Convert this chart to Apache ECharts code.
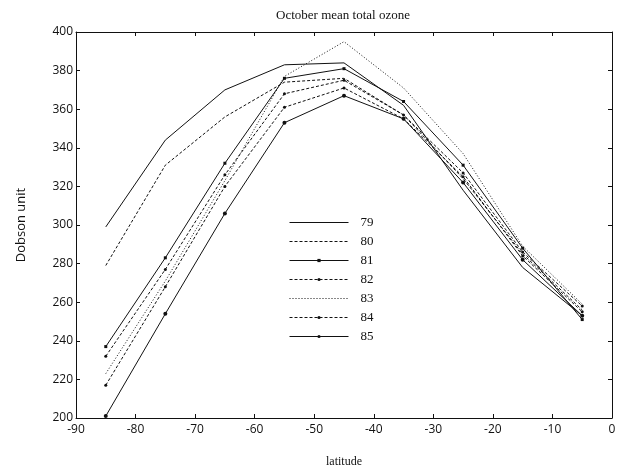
<!DOCTYPE html>
<html>
<head>
<meta charset="utf-8">
<script src="https://cdn.jsdelivr.net/npm/echarts@6/dist/echarts.min.js"></script>
<style>
  html, body { margin: 0; padding: 0; background: #fff; }
  #chart { width: 629px; height: 474px; }
</style>
</head>
<body>
<div id="chart"></div>
<script>
// latitude of each sample
var latitudes = [-85, -75, -65, -55, -45, -35, -25, -15, -5];

// October mean total ozone (Dobson units), one array per year
var y79 = [299, 344, 370, 383, 384, 362, 318, 278, 253];
var y80 = [279, 331, 356, 374, 376, 357, 324, 285, 256];
var y81 = [237, 283, 332, 376, 381, 364, 331, 288, 251];
var y82 = [232, 277, 326, 368, 375, 357, 327, 286, 258];
var y83 = [223, 271, 323, 377, 395, 371, 337, 289, 259];
var y84 = [217, 268, 320, 361, 371, 355, 325, 284, 255];
var y85 = [201, 254, 306, 353, 367, 355, 322, 282, 253];

var yearNames = ['79', '80', '81', '82', '83', '84', '85'];

function pairs(vals) {
  return latitudes.map(function (lat, i) { return [lat, vals[i]]; });
}

// line look per year: dash pattern + marker
function makeSeries(name, vals, dash, symbol, size) {
  return {
    name: name,
    type: 'line',
    data: pairs(vals),
    symbol: symbol || 'none',
    symbolSize: size || 0,
    showSymbol: !!symbol,
    itemStyle: { color: '#111', borderWidth: 0 },
    lineStyle: { color: '#111', width: 1, type: dash },
    emphasis: { disabled: true },
    animation: false
  };
}

// legend entries: hide the marker for plain lines
var withMarker = { '81': true, '82': true, '84': true, '85': true };
var legendData = yearNames.map(function (n) {
  return withMarker[n] ? { name: n } : { name: n, itemStyle: { opacity: 0 } };
});

var chart = echarts.init(document.getElementById('chart'));
var tickFont = 'Open Sans';

chart.setOption({
  backgroundColor: '#fff',
  title: {
    text: 'October mean total ozone',
    left: 338,
    textAlign: 'center',
    top: 4,
    textStyle: { fontFamily: 'Liberation Serif', fontSize: 13, fontWeight: 'normal', color: '#111' }
  },
  legend: {
    orient: 'vertical',
    left: 289,
    top: 216,
    padding: 0,
    itemWidth: 59,
    itemHeight: 4,
    itemGap: 6,
    data: legendData,
    lineStyle: { width: 1 },
    textStyle: { fontFamily: 'Liberation Serif', fontSize: 13, color: '#111', padding: [0, 0, 0, 7] }
  },
  grid: { left: 76, right: 17, top: 32, bottom: 56 },
  xAxis: [
    {
      type: 'value', min: -90, max: 0, interval: 10,
      name: 'latitude', nameLocation: 'middle', nameGap: 38,
      nameTextStyle: { fontFamily: 'Liberation Serif', fontSize: 12, color: '#111' },
      axisLine: { onZero: false, lineStyle: { color: '#111', width: 1 } },
      axisTick: { inside: true, length: 4, lineStyle: { color: '#111' } },
      axisLabel: { fontFamily: tickFont, fontSize: 12, color: '#111', margin: 6 },
      splitLine: { show: false }
    },
    {
      type: 'value', min: -90, max: 0, interval: 10, position: 'top',
      axisLine: { onZero: false, lineStyle: { color: '#111', width: 1 } },
      axisTick: { inside: true, length: 4, lineStyle: { color: '#111' } },
      axisLabel: { show: false },
      splitLine: { show: false }
    }
  ],
  yAxis: [
    {
      type: 'value', min: 200, max: 400, interval: 20,
      name: 'Dobson unit', nameLocation: 'middle', nameGap: 48,
      nameTextStyle: { fontFamily: tickFont, fontSize: 13, color: '#111' },
      axisLine: { show: true, onZero: false, lineStyle: { color: '#111', width: 1 } },
      axisTick: { show: true, inside: true, length: 4, lineStyle: { color: '#111' } },
      axisLabel: { fontFamily: tickFont, fontSize: 12, color: '#111', margin: 3 },
      splitLine: { show: false }
    },
    {
      type: 'value', min: 200, max: 400, interval: 20, position: 'right',
      axisLine: { show: true, onZero: false, lineStyle: { color: '#111', width: 1 } },
      axisTick: { show: true, inside: true, length: 4, lineStyle: { color: '#111' } },
      axisLabel: { show: false },
      splitLine: { show: false }
    }
  ],
  series: [
    makeSeries('79', y79, 'solid'),
    makeSeries('80', y80, [3, 2]),
    makeSeries('81', y81, 'solid', 'rect', 3),
    makeSeries('82', y82, [3, 2], 'circle', 3),
    makeSeries('83', y83, [1, 2]),
    makeSeries('84', y84, [3, 2], 'circle', 3),
    makeSeries('85', y85, 'solid', 'circle', 4)
  ]
});
</script>
</body>
</html>
